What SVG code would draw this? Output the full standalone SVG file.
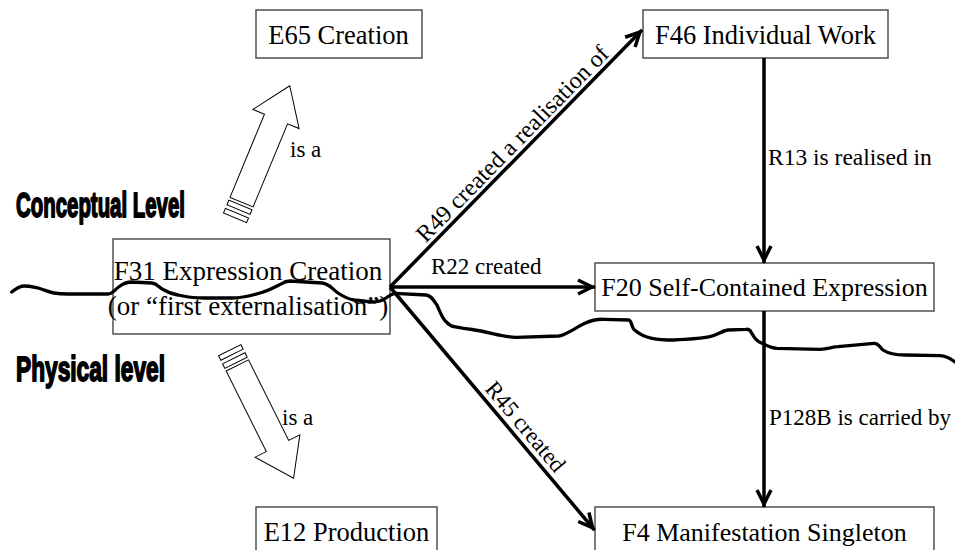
<svg xmlns="http://www.w3.org/2000/svg" xmlns:xlink="http://www.w3.org/1999/xlink" width="955" height="550" viewBox="0 0 955 550">
<style>
.box{fill:#fff;stroke:#444;stroke-width:1.4}
.t{font-family:"Liberation Serif","Times New Roman",serif;fill:#000}
.conn{stroke:#000;stroke-width:3.5;fill:none}
.lvl{font-family:"Liberation Sans",Arial,sans-serif;font-weight:bold;font-size:35px;fill:#000;stroke:#000;stroke-width:1.8;stroke-linejoin:round}
.hol{fill:#fff;stroke:#000;stroke-width:1}
</style>
<defs>
<marker id="ah" markerUnits="userSpaceOnUse" markerWidth="26" markerHeight="20" viewBox="0 0 26 20" refX="23" refY="10" orient="auto">
<path d="M6,3 L20,10 L6,17" fill="none" stroke="#000" stroke-width="3.5"/>
</marker>
<g id="hollow">
<path class="hol" d="M36,0 L0,-25 L0,-12.5 L-90,-12.5 L-90,12.5 L0,12.5 L0,25 Z"/>
<rect class="hol" x="-98" y="-12.5" width="5" height="25"/>
<rect class="hol" x="-107" y="-12.5" width="5" height="25"/>
</g>
</defs>
<rect width="955" height="550" fill="#fff"/>

<text class="lvl" x="16" y="217" textLength="169" lengthAdjust="spacingAndGlyphs">Conceptual Level</text>
<text class="lvl" x="16" y="381" textLength="149" lengthAdjust="spacingAndGlyphs">Physical level</text>

<g id="E65">
<rect class="box" x="256" y="10" width="166" height="48"/>
<text class="t" x="338.5" y="44" font-size="26.5" text-anchor="middle">E65 Creation</text>
</g>
<g id="F46">
<rect class="box" x="643" y="10" width="245" height="48"/>
<text class="t" x="765.5" y="43.5" font-size="26.5" text-anchor="middle">F46 Individual Work</text>
</g>
<g id="F31">
<rect class="box" x="113" y="239" width="277" height="95"/>
<text class="t" x="248" y="280" font-size="27" text-anchor="middle">F31 Expression Creation</text>
<text class="t" x="248" y="315" font-size="27" text-anchor="middle">(or “first externalisation”)</text>
</g>
<g id="F20">
<rect class="box" x="595" y="263" width="339" height="48"/>
<text class="t" x="764.5" y="296" font-size="26" text-anchor="middle">F20 Self-Contained Expression</text>
</g>
<g id="E12">
<rect class="box" x="256" y="507" width="181" height="50"/>
<text class="t" x="346.5" y="541" font-size="26.5" text-anchor="middle">E12 Production</text>
</g>
<g id="F4">
<rect class="box" x="595" y="507" width="339" height="50"/>
<text class="t" x="764.5" y="541" font-size="26" text-anchor="middle">F4 Manifestation Singleton</text>
</g>

<g id="isa">
<use xlink:href="#hollow" href="#hollow" transform="translate(276,119) rotate(-67.5)"/>
<text class="t" x="290" y="157" font-size="23">is a</text>
<use xlink:href="#hollow" href="#hollow" transform="translate(277.5,446) rotate(63.5)"/>
<text class="t" x="282" y="425" font-size="23">is a</text>
</g>

<path id="boundary" fill="none" stroke="#000" stroke-width="3.3" stroke-linejoin="round" stroke-linecap="round" d="M11.7,292 C16,289 19,286 24,286 C30,286 33,287 38,288 C45,290 48,292 54,293 C60,294 62,294 68,294 L108,294 C113,294 114,290 120,286 C124,283 127,282 132,282 L152,283 C158,284 159,288 164,290 C169,293 172,294 178,295 C186,297 195,298 204,298 L232,298 C242,298 250,296 260,293 C268,291 275,287 281,284 C284,282 286,281 290,281 L322,283 C330,284 332,289 338,293 C344,297 348,299 354,300 L372,302 C378,302 382,301 386,298 C389,296 391,294 395,293.3 L426,295 C432,296 433,300 437,305 C440,312 442,318 446,321.7 C448,324 450,326 454,326.7 C460,328 465,329 472,329.5 C490,332 502,337 516,337.3 L559,336 C566,335 575,328 585,323.3 C592,320 597,319 604,319.3 L629,320 C632,321 631,326 634,329.5 C639,334 645,337 652,338.3 C660,340 666,340 674,340 C688,339 700,339 710,336.7 C717,335 722,331 728,330 L746,329.3 C749,329 750,330 751,332 C754,337 756,341 762,343.3 C768,346 771,348 777,348.3 L820,349.3 C828,349 832,347 838,346.7 L874,343.3 C879,343 879,347 883,350 C889,354 896,355 905,355 L940,355.7 C946,356 950,358 955,362"/>

<g id="connectors">
<line class="conn" x1="390" y1="287" x2="642" y2="30" marker-end="url(#ah)"/>
<line class="conn" x1="390" y1="287" x2="595" y2="287" marker-end="url(#ah)"/>
<line class="conn" x1="390" y1="287" x2="594.5" y2="530" marker-end="url(#ah)"/>
<line class="conn" x1="764" y1="58" x2="764" y2="263" marker-end="url(#ah)"/>
<line class="conn" x1="764" y1="311" x2="764" y2="507" marker-end="url(#ah)"/>
<text class="t" font-size="24" text-anchor="middle" transform="translate(390,287) rotate(-45.56) translate(188,-5)">R49 created a realisation of</text>
<text class="t" x="431" y="274" font-size="23">R22 created</text>
<text class="t" font-size="23" text-anchor="middle" transform="translate(390,287) rotate(49.9) translate(194,-6)">R45 created</text>
<text class="t" x="768" y="165" font-size="23.5">R13 is realised in</text>
<text class="t" x="769" y="425" font-size="23">P128B is carried by</text>
</g>
</svg>
